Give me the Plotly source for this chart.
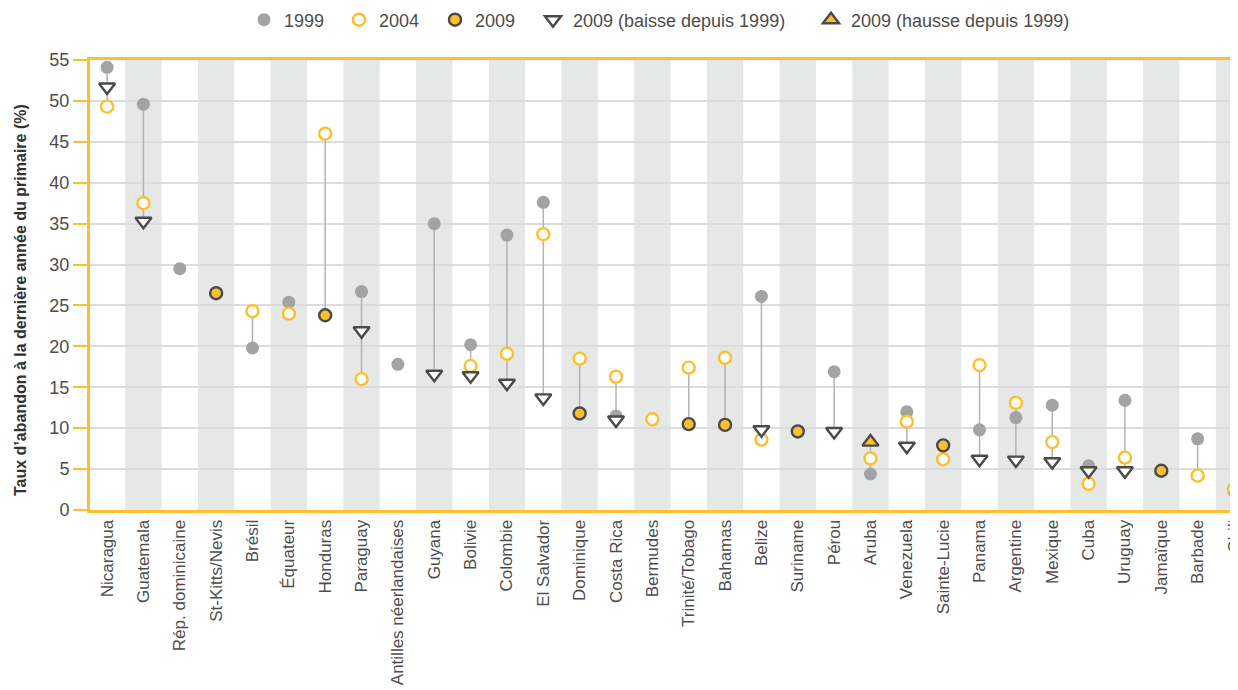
import plotly.graph_objects as go

countries = ["Nicaragua", "Guatemala", "Rép. dominicaine", "St-Kitts/Nevis", "Brésil", "Équateur",
             "Honduras", "Paraguay", "Antilles néerlandaises", "Guyana", "Bolivie", "Colombie",
             "El Salvador", "Dominique", "Costa Rica", "Bermudes", "Trinité/Tobago", "Bahamas",
             "Belize", "Suriname", "Pérou", "Aruba", "Venezuela", "Sainte-Lucie", "Panama",
             "Argentine", "Mexique", "Cuba", "Uruguay", "Jamaïque", "Barbade", "Chili"]

v1999 = [54.1, 49.6, 29.5, None, 19.8, 25.4, None, 26.7, 17.8, 35.0, 20.2, 33.6,
         37.6, None, 11.5, None, None, None, 26.1, None, 16.9, 4.4, 12.0, None, 9.8,
         11.3, 12.8, 5.4, 13.4, None, 8.7, 2.3]
v2004 = [49.3, 37.5, None, None, 24.3, 24.0, 46.0, 16.0, None, None, 17.6, 19.1,
         33.7, 18.5, 16.3, 11.1, 17.4, 18.6, 8.6, None, None, 6.3, 10.8, 6.2, 17.7,
         13.1, 8.3, 3.2, 6.4, None, 4.2, 2.6]
v2009 = [51.7, 35.3, None, 26.5, None, None, 23.8, 21.9, None, 16.6, 16.4, 15.5,
         13.7, 11.8, 11.0, None, 10.5, 10.4, 9.8, 9.6, 9.6, 8.3, 7.8, 7.9, 6.2,
         6.1, 5.9, 4.8, 4.8, 4.8, None, None]

y_ticks = [0, 5, 10, 15, 20, 25, 30, 35, 40, 45, 50, 55]
series_names = ["1999", "2004", "2009", "2009 (baisse depuis 1999)", "2009 (hausse depuis 1999)"]

YELLOW = "#FDBF2D"
GREY_DOT = "#A3A3A3"
DARK = "#4A4A4A"
BAND = "#E6E7E7"
TEXT = "#4D4D4D"
FONT = "Liberation Sans, Arial, sans-serif"

W, H = 1230, 682          # page adds an 8px body margin
ML, MT, MB, MR = 82, 52, 180, 0

# split 2009 values
plain09_x, plain09_y, down_x, down_y, up_x, up_y = [], [], [], [], [], []
for c, a, b in zip(countries, v1999, v2009):
    if b is None:
        continue
    if a is None:
        plain09_x.append(c); plain09_y.append(b)
    elif b <= a:
        down_x.append(c); down_y.append(b)
    else:
        up_x.append(c); up_y.append(b)

# connecting segments
seg_x, seg_y = [], []
for c, a, b, d in zip(countries, v1999, v2004, v2009):
    vals = [v for v in (a, b, d) if v is not None]
    if len(vals) >= 2:
        seg_x += [c, c, None]
        seg_y += [min(vals), max(vals), None]

fig = go.Figure()
fig.add_trace(go.Scatter(x=seg_x, y=seg_y, mode="lines", line=dict(color="#B2B2B2", width=1.5),
                         showlegend=False, hoverinfo="skip"))
fig.add_trace(go.Scatter(x=countries, y=v1999, mode="markers", name=series_names[0], legend="legend",
                         marker=dict(symbol="circle", size=13, color=GREY_DOT, line=dict(width=0))))
fig.add_trace(go.Scatter(x=countries, y=v2004, mode="markers", name=series_names[1], legend="legend2",
                         marker=dict(symbol="circle", size=12, color="white",
                                     line=dict(color=YELLOW, width=2.4))))
fig.add_trace(go.Scatter(x=plain09_x, y=plain09_y, mode="markers", name=series_names[2], legend="legend3",
                         marker=dict(symbol="circle", size=12, color=YELLOW,
                                     line=dict(color=DARK, width=2.4))))
fig.add_trace(go.Scatter(x=down_x, y=down_y, mode="markers", name=series_names[3], legend="legend4",
                         marker=dict(symbol="triangle-down", size=14, color="white",
                                     line=dict(color=DARK, width=2.4))))
fig.add_trace(go.Scatter(x=up_x, y=up_y, mode="markers", name=series_names[4], legend="legend5",
                         marker=dict(symbol="triangle-up", size=14, color=YELLOW,
                                     line=dict(color=DARK, width=2.4))))

shapes = []
for i in range(1, len(countries), 2):
    shapes.append(dict(type="rect", xref="x", yref="paper", x0=i - 0.5, x1=i + 0.5, y0=0, y1=1,
                       fillcolor=BAND, line=dict(width=0), layer="below"))

# legend item left edges (figure px)
legend_left = [236, 331, 427, 525, 803]
legends = {}
for k, lx in enumerate(legend_left):
    key = "legend" if k == 0 else f"legend{k + 1}"
    legends[key] = dict(orientation="h", xref="container", x=lx / W, xanchor="left",
                        yref="container", y=1 - 12 / H, yanchor="middle",
                        font=dict(size=18, color=TEXT), itemclick=False, itemdoubleclick=False,
                        bgcolor="rgba(0,0,0,0)")

fig.update_layout(
    width=W, height=H,
    margin=dict(l=ML, r=MR, t=MT, b=MB, autoexpand=False),
    paper_bgcolor="white", plot_bgcolor="white",
    font=dict(family=FONT, size=16, color=TEXT),
    shapes=shapes,
    showlegend=True,
    **legends,
    xaxis=dict(type="category", categoryorder="array", categoryarray=countries,
               range=[-0.47, 31.11], tickangle=-90, showgrid=False, automargin=False,
               showline=True, linecolor=YELLOW, linewidth=3, mirror=True,
               ticks="", tickfont=dict(size=17, color=TEXT)),
    yaxis=dict(range=[0, 55], tickvals=y_ticks, showgrid=True, gridcolor="#DCDCDC", gridwidth=2,
               zeroline=False, showline=True, linecolor=YELLOW, linewidth=3, automargin=False,
               ticks="outside", ticklen=14, tickcolor=YELLOW, tickwidth=2,
               tickfont=dict(size=18, color=TEXT)),
    annotations=[dict(text="<b>Taux d’abandon à la dernière année du primaire (%)</b>",
                      xref="paper", yref="paper", x=(13 - ML) / (W - ML - MR), y=0.4667,
                      xanchor="center", yanchor="middle", textangle=-90, showarrow=False,
                      font=dict(size=16, color="#333333", family=FONT))],
)

fig.write_html("out.html")
